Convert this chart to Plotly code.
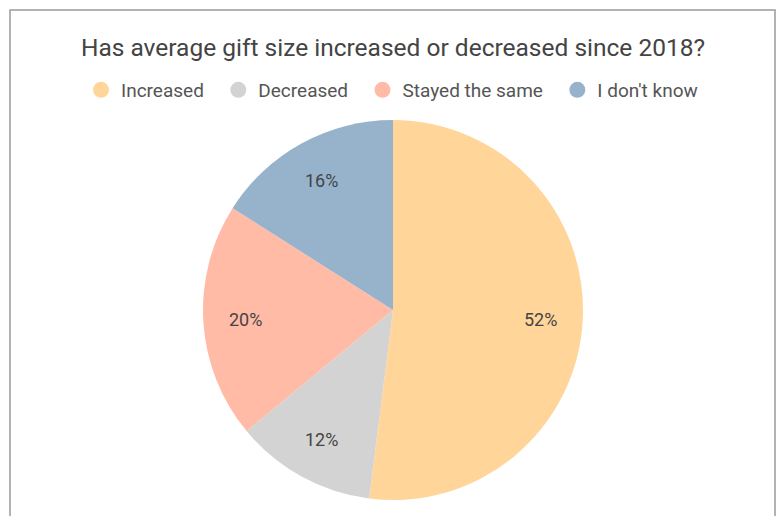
import math
import plotly.graph_objects as go

# Survey responses
categories = ["Increased", "Decreased", "Stayed the same", "I don't know"]
shares = [52, 12, 20, 16]
colors = ["#FFD59A", "#D3D3D3", "#FFBBA6", "#97B3CC"]

W, H = 776, 516
cx, cy, r = 393, 310, 190
label_r = 0.78  # label distance from centre, as a fraction of the radius

fig = go.Figure()

fig.add_trace(go.Pie(
    labels=categories,
    values=shares,
    sort=False,
    direction="clockwise",
    rotation=0,
    marker=dict(colors=colors, line=dict(color="white", width=0)),
    textinfo="none",
    showlegend=False,
    hoverinfo="label+percent",
    domain=dict(x=[(cx - r) / W, (cx + r) / W], y=[(H - cy - r) / H, (H - cy + r) / H]),
))

# Percentage labels placed at the middle angle of each slice
total = sum(shares)
start = 0.0
for v in shares:
    mid = (start + v / 2) / total * 2 * math.pi
    start += v
    px = cx + label_r * r * math.sin(mid)
    py = cy - label_r * r * math.cos(mid)
    fig.add_annotation(x=px / W, y=1 - py / H, xref="paper", yref="paper",
                       xanchor="center", yanchor="middle",
                       text=f"{v}%", showarrow=False,
                       font=dict(family="Roboto", size=18, color="#444444"))

# Legend entries with round markers (non-breaking spaces widen the gaps)
for i, (name, col) in enumerate(zip(categories, colors)):
    pad = "\u00a0\u00a0" if i < len(categories) - 1 else ""
    fig.add_trace(go.Scatter(
        x=[None], y=[None], mode="markers", name=name + pad,
        marker=dict(symbol="circle", size=17, color=col),
    ))

# Frame around the chart area
fig.add_shape(type="path", xref="paper", yref="paper",
              path=f"M {10/W} {-0.05} L {10/W} {1-10/H} L {775/W} {1-10/H} L {775/W} {-0.05}",
              line=dict(color="#9a9a9a", width=1.5))

fig.update_layout(
    width=W, height=H,
    margin=dict(l=0, r=0, t=0, b=0),
    paper_bgcolor="white", plot_bgcolor="white",
    title=dict(text="Has average gift size increased or decreased since 2018?",
               x=cx / W, xanchor="center", y=1 - 47 / H, yanchor="middle",
               font=dict(family="Roboto", size=24.5, color="#444444")),
    legend=dict(orientation="h", x=392 / W, xanchor="center", y=1 - 90 / H, yanchor="middle",
                font=dict(family="Roboto", size=19, color="#555555"),
                itemclick=False, bgcolor="rgba(0,0,0,0)"),
    xaxis=dict(visible=False), yaxis=dict(visible=False),
)

fig.write_html("out.html")
